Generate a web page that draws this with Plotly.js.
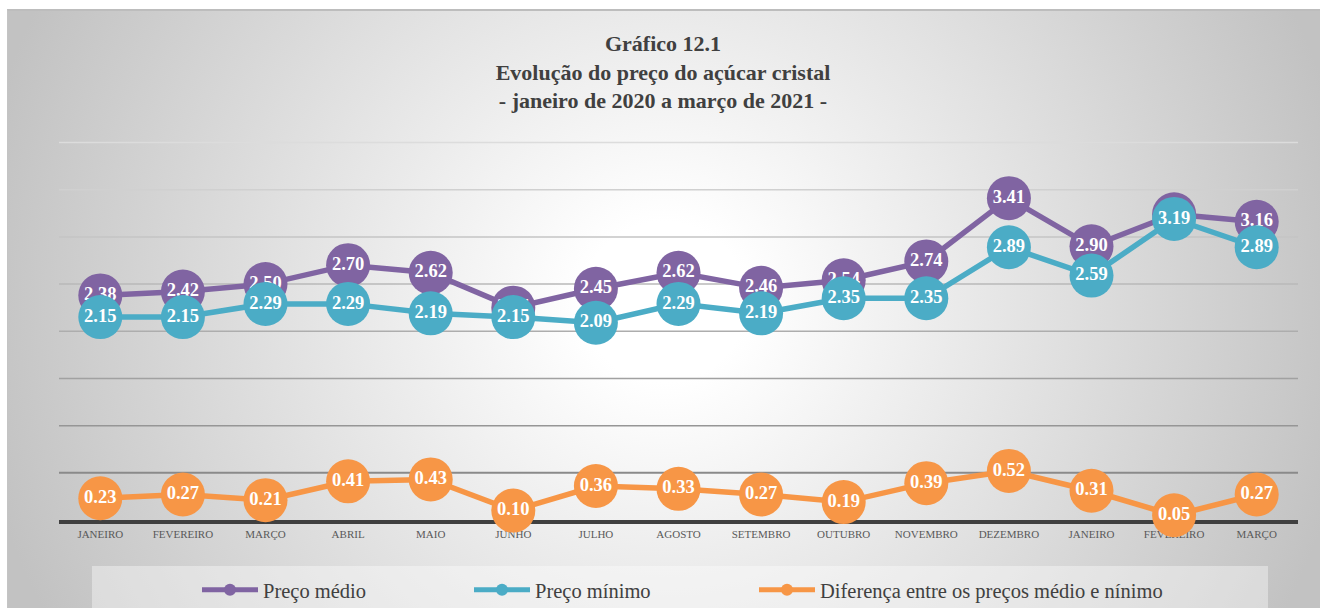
<!DOCTYPE html>
<html>
<head>
<meta charset="utf-8">
<script src="https://cdn.plot.ly/plotly-3.0.1.min.js"></script>
<style>
  html, body { margin:0; padding:0; background:#ffffff; }
  #wrap { position:relative; width:1320px; height:608px; overflow:hidden; }
  #bg { position:absolute; left:7px; top:9px; right:0; bottom:0;
        border-top:2px solid #bdbdbd; border-left:1px solid #c4c4c4;
        background: radial-gradient(820px 800px at 656px 291px, #ffffff 10%, #c2c2c2 85%); }
  #chart { position:absolute; left:0; top:0; width:1320px; height:608px; }
</style>
</head>
<body>
<div id="wrap"><div id="bg"></div><div id="chart"></div></div>
<script>
// ---- data ----
const months = ["JANEIRO","FEVEREIRO","MARÇO","ABRIL","MAIO","JUNHO","JULHO","AGOSTO",
                "SETEMBRO","OUTUBRO","NOVEMBRO","DEZEMBRO","JANEIRO","FEVEREIRO","MARÇO"];
const precoMedio  = [2.38,2.42,2.50,2.70,2.62,2.25,2.45,2.62,2.46,2.54,2.74,3.41,2.90,3.24,3.16];
const precoMinimo = [2.15,2.15,2.29,2.29,2.19,2.15,2.09,2.29,2.19,2.35,2.35,2.89,2.59,3.19,2.89];
const diferenca   = [0.23,0.27,0.21,0.41,0.43,0.10,0.36,0.33,0.27,0.19,0.39,0.52,0.31,0.05,0.27];
const seriesNames = ["Preço médio","Preço mínimo","Diferença entre os preços médio e nínimo"];
const gridLevels  = [0.5,1.0,1.5,2.0,2.5,3.0,3.5,4.0];

// ---- layout geometry ----
const W = 1320, H = 608;
const L = 59, R = 22, T = 140, B = 88;
const YMAX = 4.0265;
const pw = W - L - R, ph = H - T - B;
const px2x = p => (p - L) / pw;
const py2y = p => (H - B - p) / ph;

const idx = months.map((m, i) => i);
const serif = "Liberation Serif, Times New Roman, serif";
const colors = ["#8064A2", "#4BACC6", "#F79646"];
const legends = ["legend", "legend2", "legend3"];
const values = [precoMedio, precoMinimo, diferenca];

const traces = values.map((v, k) => ({
  type: "scatter",
  mode: "lines+markers+text",
  x: idx,
  y: v,
  name: seriesNames[k],
  legend: legends[k],
  line: { color: colors[k], width: 5.5 },
  marker: { color: colors[k], size: 44, line: { width: 0 } },
  texttemplate: "%{y:.2f}",
  textposition: "middle center",
  textfont: { family: serif, size: 18.5, color: "#ffffff", weight: "bold" },
  cliponaxis: false,
  hoverinfo: "skip"
}));

const legendX = [205, 477, 762];
function mkLegend(k) {
  return {
    xref: "container", yref: "container",
    x: (legendX[k] - 8) / W, xanchor: "left",
    y: 1 - 590 / H, yanchor: "middle",
    orientation: "h",
    bgcolor: "rgba(0,0,0,0)",
    borderwidth: 0,
    itemsizing: "constant",
    itemwidth: 56,
    font: { family: serif, size: 20.5, color: "#404040" }
  };
}

// gridline shading: darker near the bottom, lighter near the top
function gridColor(i, n) {
  const c = Math.round(138 + (220 - 138) * (i / (n - 1)));
  return "rgb(" + c + "," + c + "," + c + ")";
}
const gridShapes = gridLevels.map((g, i) => ({
  type: "line", layer: "below",
  xref: "paper", x0: 0, x1: 1,
  yref: "y", y0: g, y1: g,
  line: { color: gridColor(i, gridLevels.length), width: i === 0 ? 2 : 1.5 }
}));

const layout = {
  width: W, height: H,
  margin: { l: L, r: R, t: T, b: B, pad: 0 },
  paper_bgcolor: "rgba(0,0,0,0)",
  plot_bgcolor: "rgba(0,0,0,0)",
  showlegend: true,
  title: {
    text: "Gráfico 12.1<br>Evolução do preço do açúcar cristal<br>- janeiro de 2020 a março de 2021 -",
    font: { family: serif, size: 22, color: "#404040", weight: "bold" },
    x: 663 / W, xref: "container", xanchor: "center",
    y: 1 - 51 / H, yref: "container", yanchor: "top"
  },
  xaxis: {
    range: [-0.5, months.length - 0.5],
    tickmode: "array", tickvals: idx, ticktext: months,
    showgrid: false, zeroline: false,
    showline: true, linecolor: "#404040", linewidth: 4,
    ticks: "", ticklabelstandoff: 1,
    tickfont: { family: serif, size: 11, color: "#595959" },
    layer: "below traces", fixedrange: true
  },
  yaxis: {
    range: [0, YMAX],
    showgrid: false, zeroline: false, showticklabels: false, ticks: "",
    layer: "below traces", fixedrange: true
  },
  legend: mkLegend(0),
  legend2: mkLegend(1),
  legend3: mkLegend(2),
  shapes: [{
    type: "rect", layer: "below",
    xref: "paper", yref: "paper",
    x0: px2x(92), x1: px2x(1268), y0: py2y(625), y1: py2y(566),
    fillcolor: "rgba(255,255,255,0.38)", line: { width: 0 }
  }].concat(gridShapes)
};

Plotly.newPlot("chart", traces, layout, { displayModeBar: false, staticPlot: true });
</script>
</body>
</html>
